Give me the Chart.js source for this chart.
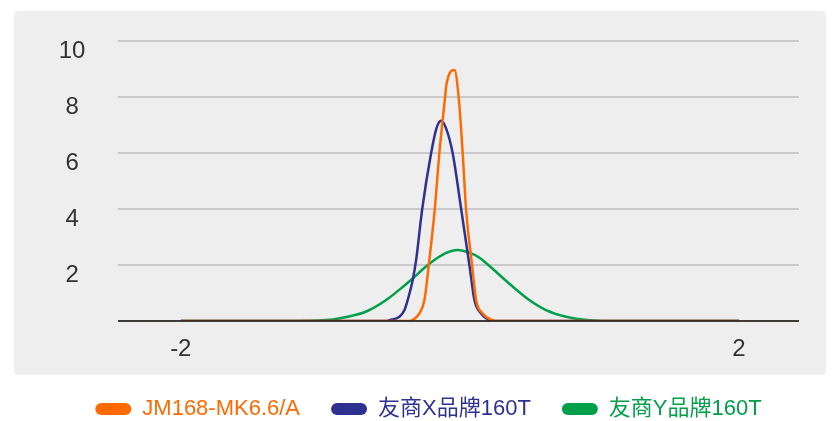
<!DOCTYPE html>
<html>
<head>
<meta charset="utf-8">
<script src="https://cdn.jsdelivr.net/npm/chart.js@4.4.1/dist/chart.umd.min.js"></script>
<style>
  html, body { margin: 0; padding: 0; background: #ffffff; overflow: hidden; }
  #wrap { position: relative; width: 839px; height: 421px; overflow: hidden; }
  #c { position: absolute; left: 0; top: 0; }
</style>
</head>
<body>
<div id="wrap"><canvas id="c" width="839" height="430"></canvas></div>
<script>
// ---- data ----
const seriesNames = ['JM168-MK6.6/A', '友商X品牌160T', '友商Y品牌160T'];

const orangeX = [-2, -0.36, -0.34, -0.29, -0.254, -0.223, -0.18, -0.147, -0.106, -0.097, -0.039, -0.009, 0.020, 0.044, 0.087, 0.116, 0.163, 0.233, 0.26, 2];
const orangeY = [0, 0, 0.03, 0.27, 0.75, 2.0, 4.0, 6.0, 8.0, 8.43, 8.96, 8.0, 6.0, 4.0, 2.0, 0.75, 0.27, 0.03, 0, 0];

const blueX = [-2, -0.53, -0.504, -0.433, -0.397, -0.374, -0.338, -0.313, -0.270, -0.206, -0.168, -0.135, -0.099, -0.052, 0.009, 0.068, 0.104, 0.152, 0.211, 0.24, 2];
const blueY = [0, 0, 0.03, 0.15, 0.39, 0.75, 1.46, 2.2, 4.0, 6.0, 6.88, 7.15, 6.88, 6.0, 4.0, 2.0, 0.75, 0.27, 0.03, 0, 0];

const greenX = [-2, -1.15, -0.91, -0.814, -0.671, -0.528, -0.433, -0.338, -0.230, -0.099, -0.016, 0.068, 0.140, 0.187, 0.378, 0.497, 0.617, 0.760, 0.927, 1.14, 2];
const greenY = [0, 0, 0.05, 0.14, 0.34, 0.75, 1.12, 1.52, 2.0, 2.43, 2.54, 2.44, 2.26, 2.07, 1.23, 0.75, 0.39, 0.15, 0.03, 0, 0];

const xTickValues = [-2, 2];
const yTickValues = [2, 4, 6, 8, 10];

// ---- styling ----
const colors = ['#ff6a00', '#2e3190', '#00a04b'];
const FONT = "'Liberation Sans', Arial, 'Noto Sans CJK SC', sans-serif";

function pts(xs, ys) { return xs.map((x, i) => ({ x: x, y: ys[i] })); }

const panelPlugin = {
  id: 'panel',
  beforeDraw(chart) {
    const ctx = chart.ctx;
    ctx.save();
    ctx.fillStyle = '#eeeeee';
    const x = 14, y = 11, w = 812, h = 364, r = 5;
    ctx.beginPath();
    ctx.moveTo(x + r, y);
    ctx.lineTo(x + w - r, y);
    ctx.quadraticCurveTo(x + w, y, x + w, y + r);
    ctx.lineTo(x + w, y + h - r);
    ctx.quadraticCurveTo(x + w, y + h, x + w - r, y + h);
    ctx.lineTo(x + r, y + h);
    ctx.quadraticCurveTo(x, y + h, x, y + h - r);
    ctx.lineTo(x, y + r);
    ctx.quadraticCurveTo(x, y, x + r, y);
    ctx.closePath();
    ctx.fill();
    ctx.restore();
  },
  afterDatasetsDraw(chart) {
    const ctx = chart.ctx;
    const a = chart.chartArea;
    const yPix = chart.scales.y.getPixelForValue(0);
    ctx.save();
    ctx.strokeStyle = 'rgba(40,36,34,0.86)';
    ctx.lineWidth = 2;
    ctx.beginPath();
    ctx.moveTo(a.left, yPix);
    ctx.lineTo(a.right, yPix);
    ctx.stroke();
    ctx.restore();
  }
};

const datasets = [
  { label: seriesNames[0], data: pts(orangeX, orangeY), borderColor: colors[0], backgroundColor: colors[0] },
  { label: seriesNames[1], data: pts(blueX, blueY), borderColor: colors[1], backgroundColor: colors[1] },
  { label: seriesNames[2], data: pts(greenX, greenY), borderColor: colors[2], backgroundColor: colors[2] }
].map(d => Object.assign(d, {
  borderWidth: 2.5, pointRadius: 0, pointHoverRadius: 0, fill: false,
  cubicInterpolationMode: 'monotone'
}));

new Chart(document.getElementById('c'), {
  type: 'line',
  data: { datasets: datasets },
  plugins: [panelPlugin],
  options: {
    responsive: false,
    animation: false,
    events: [],
    layout: { padding: { left: 58, right: 40, top: 41, bottom: 0 } },
    scales: {
      x: {
        type: 'linear',
        min: -2.45, max: 2.43,
        afterBuildTicks(s) { s.ticks = xTickValues.map(v => ({ value: v })); },
        afterFit(s) { s.height = 46; s.paddingLeft = 0; s.paddingRight = 0; },
        grid: { display: false, drawTicks: false },
        border: { display: false },
        ticks: {
          padding: 13.6, color: '#333333', maxRotation: 0,
          font: { family: FONT, size: 24 },
          callback: v => String(v)
        }
      },
      y: {
        type: 'linear',
        min: 0, max: 10,
        afterBuildTicks(s) { s.ticks = [0].concat(yTickValues).map(v => ({ value: v })); },
        afterFit(s) { s.width = 60; s.paddingTop = 0; s.paddingBottom = 0; },
        grid: { color: '#cacaca', lineWidth: 2, drawTicks: false },
        border: { display: false },
        ticks: {
          padding: 32.6, crossAlign: 'center', labelOffset: 10, color: '#333333',
          font: { family: FONT, size: 24 },
          callback: v => (v === 0 ? '' : String(v))
        }
      }
    },
    plugins: {
      tooltip: { enabled: false },
      legend: {
        position: 'bottom',
        labels: {
          boxWidth: 36, boxHeight: 12, useBorderRadius: true, borderRadius: 6,
          padding: 31,
          font: { family: FONT, size: 22 },
          generateLabels(chart) {
            return chart.data.datasets.map((d, i) => ({
              text: d.label, fillStyle: d.borderColor, strokeStyle: d.borderColor,
              lineWidth: 0, fontColor: d.borderColor, borderRadius: 6, datasetIndex: i, hidden: false
            }));
          }
        }
      }
    }
  }
});
</script>
</body>
</html>
